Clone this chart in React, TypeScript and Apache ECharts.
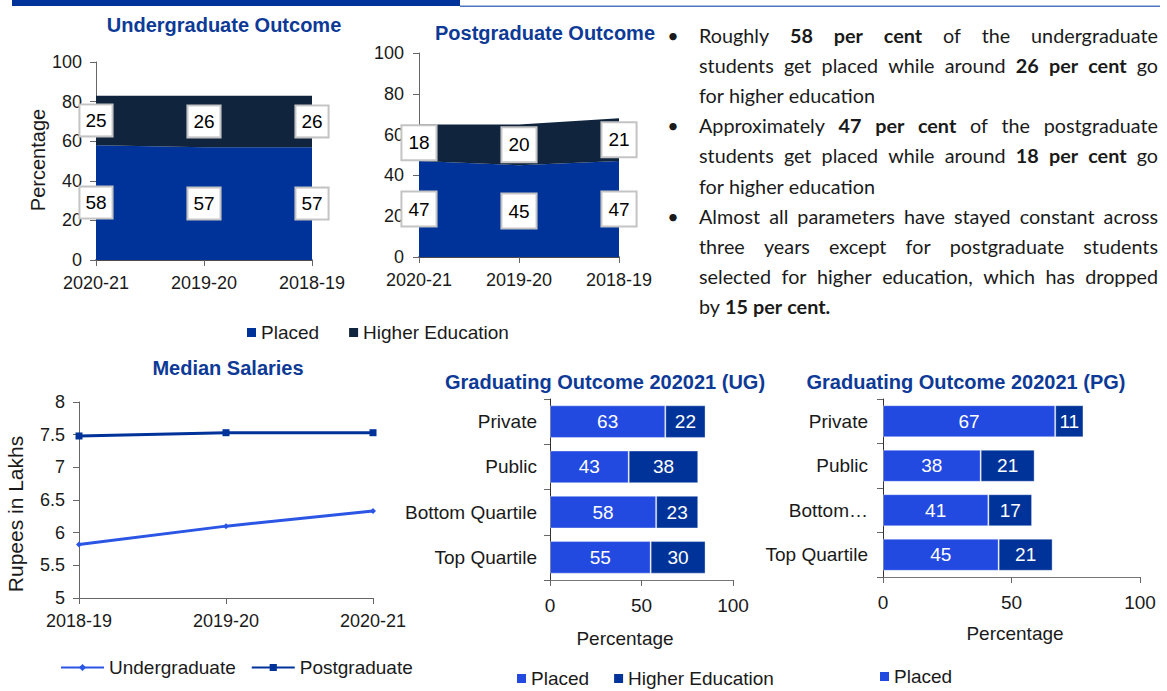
import React, { useEffect, useRef } from 'react';
import * as echarts from 'echarts';

// ---------- data ----------
const ugYears = ['2020-21', '2019-20', '2018-19'];
const ugPlaced = [58, 57, 57];
const ugHigher = [25, 26, 26];

const pgYears = ['2020-21', '2019-20', '2018-19'];
const pgPlaced = [47, 45, 47];
const pgHigher = [18, 20, 21];

const salaryYears = ['2018-19', '2019-20', '2020-21'];
const salaryUG = [5.82, 6.1, 6.33];
const salaryPG = [7.48, 7.53, 7.53];

const segments = ['Private', 'Public', 'Bottom Quartile', 'Top Quartile'];
const ugSegPlaced = [63, 43, 58, 55];
const ugSegHigher = [22, 38, 23, 30];
const pgSegPlaced = [67, 38, 41, 45];
const pgSegHigher = [11, 21, 17, 21];

const bulletParagraphs = [
  ['Roughly **58 per cent** of the undergraduate', 'students get placed while around **26 per cent** go', 'for higher education'],
  ['Approximately **47 per cent** of the postgraduate', 'students get placed while around **18 per cent** go', 'for higher education'],
  [
    'Almost all parameters have stayed constant across',
    'three years except for postgraduate students',
    'selected for higher education, which has dropped',
    'by **15 per cent**.',
  ],
];

// ---------- styling ----------
const FONT = '"Liberation Sans", Arial, sans-serif';
const TEXT_FONT = 'Lato';
const NAVY = '#003399';
const DARK = '#10243e';
const BRIGHT = '#2249e0';
const TITLE = '#0d3a96';
const INK = '#1a1a1a';

function parseLine(line: string) {
  const out: { t: string; b: boolean }[] = [];
  let bold = false;
  for (let tok of line.split(' ')) {
    if (!tok) continue;
    let b = bold;
    if (tok.startsWith('**')) {
      tok = tok.slice(2);
      b = true;
      bold = true;
    }
    let end = false;
    if (tok.includes('**')) {
      tok = tok.replace('**', '');
      end = true;
    }
    out.push({ t: tok, b });
    if (end) bold = false;
  }
  return out;
}

function buildTextBlock(): any[] {
  const ctx = document.createElement('canvas').getContext('2d')!;
  const measure = (t: string, b: boolean, s: number) => {
    ctx.font = `${b ? 'bold ' : ''}${s}px ${TEXT_FONT}`;
    return ctx.measureText(t).width;
  };
  let size = (176 / measure('for higher education', false, 100)) * 100;
  if (!isFinite(size) || size < 14 || size > 24) size = 19;
  const left = 699;
  const right = 1158;
  const startY = 35;
  const lineH = 30.1;
  const els: any[] = [];
  let li = 0;
  bulletParagraphs.forEach((para) => {
    els.push({
      type: 'text',
      x: 673,
      y: startY + li * lineH,
      style: { text: '•', fontSize: size, fontFamily: TEXT_FONT, fill: INK, align: 'center', verticalAlign: 'middle' },
    });
    para.forEach((line, k) => {
      const words = parseLine(line);
      const widths = words.map((w) => measure(w.t, w.b, size));
      const total = widths.reduce((a, c) => a + c, 0);
      const last = k === para.length - 1;
      const gap = last || words.length < 2 ? measure(' ', false, size) : (right - left - total) / (words.length - 1);
      let x = left;
      const y = startY + li * lineH;
      words.forEach((w, i) => {
        els.push({
          type: 'text',
          x,
          y,
          style: {
            text: w.t,
            fontSize: size,
            fontFamily: TEXT_FONT,
            fontWeight: w.b ? 'bold' : 'normal',
            fill: INK,
            align: 'left',
            verticalAlign: 'middle',
          },
        });
        x += widths[i] + gap;
      });
      li++;
    });
  });
  return els;
}

const lab = (size = 18, margin = 14) => ({ color: INK, fontSize: size, fontFamily: FONT, margin });

function titleText(text: string, x: number, y: number) {
  return {
    type: 'text',
    x,
    y,
    style: { text, fontSize: 20, fontWeight: 'bold', fontFamily: FONT, fill: TITLE, align: 'center', verticalAlign: 'middle' },
  };
}
function nameText(text: string, x: number, y: number, size: number, rotate = false) {
  return {
    type: 'text',
    x,
    y,
    rotation: rotate ? Math.PI / 2 : 0,
    style: { text, fontSize: size, fontFamily: FONT, fill: INK, align: 'center', verticalAlign: 'middle' },
  };
}

const boxLabel = (padding: number[]) => ({
  show: true,
  position: 'inside',
  formatter: (p: any) => String(p.value[2]),
  backgroundColor: '#fff',
  borderColor: '#c4c4c4',
  borderWidth: 2,
  padding,
  fontSize: 19,
  fontFamily: FONT,
  color: '#000',
  opacity: 1,
});

function labelSeries(xi: number, placed: number[], higher: number[], padding: number[]) {
  const data = [
    ...placed.map((v, i) => [i, v / 2, v]),
    ...higher.map((v, i) => [i, placed[i] + v / 2, v]),
  ];
  return {
    type: 'scatter',
    name: 'labels' + xi,
    xAxisIndex: xi,
    yAxisIndex: xi,
    data,
    symbolSize: 1,
    itemStyle: { color: 'rgba(0,0,0,0)' },
    label: boxLabel(padding),
    silent: true,
    z: 5,
  };
}

function areaSeries(name: string, xi: number, stack: string, data: number[], color: string) {
  return {
    type: 'line',
    name,
    xAxisIndex: xi,
    yAxisIndex: xi,
    stack,
    data,
    symbol: 'none',
    lineStyle: { width: 0, color },
    itemStyle: { color },
    areaStyle: { color, opacity: 1 },
  };
}

function barSeries(name: string, xi: number, stack: string, data: number[], color: string) {
  return {
    type: 'bar',
    name,
    xAxisIndex: xi,
    yAxisIndex: xi,
    stack,
    data,
    barWidth: '72%',
    itemStyle: { color, borderColor: 'rgba(255,255,255,0.35)', borderWidth: 1 },
    label: { show: true, position: 'inside', color: '#fff', fontSize: 19, fontFamily: FONT },
  };
}

function buildOption() {
  const catAxisX = (gi: number, data: string[]) => ({
    gridIndex: gi,
    type: 'category',
    data,
    boundaryGap: false,
    axisLine: { show: true, lineStyle: { color: '#111', width: 1.5 } },
    axisTick: { show: true, length: 6, lineStyle: { color: '#666' } },
    axisLabel: { ...lab(18, 14), interval: 0 },
    splitLine: { show: false },
  });
  const valAxis = (gi: number, min: number, max: number, interval: number, size = 18, margin = 14) => ({
    gridIndex: gi,
    type: 'value',
    min,
    max,
    interval,
    axisLine: { show: true, lineStyle: { color: '#666' } },
    axisTick: { show: true, length: 6, lineStyle: { color: '#666' } },
    axisLabel: lab(size, margin),
    splitLine: { show: false },
  });
  const segAxis = (gi: number, margin: number, formatter?: (v: string) => string) => ({
    gridIndex: gi,
    type: 'category',
    data: segments,
    inverse: true,
    axisLine: { show: true, lineStyle: { color: '#333' } },
    axisTick: { show: true, length: 6, lineStyle: { color: '#666' } },
    axisLabel: { ...lab(19, margin), interval: 0, ...(formatter ? { formatter } : {}) },
    splitLine: { show: false },
  });

  const legendBase = {
    selectedMode: false,
    orient: 'horizontal',
    textStyle: { fontSize: 19, fontFamily: FONT, color: INK },
    padding: 0,
  };

  return {
    animation: false,
    backgroundColor: '#fff',
    grid: [
      { left: 96, top: 62, width: 216, height: 198, outerBoundsMode: 'none' },
      { left: 419, top: 53, width: 200, height: 204, outerBoundsMode: 'none' },
      { left: 79, top: 402, width: 294, height: 196, outerBoundsMode: 'none' },
      { left: 550, top: 399, width: 183, height: 181, outerBoundsMode: 'none' },
      { left: 883, top: 399, width: 257, height: 178, outerBoundsMode: 'none' },
    ],
    xAxis: [
      catAxisX(0, ugYears),
      catAxisX(1, pgYears),
      { ...catAxisX(2, salaryYears), axisLine: { show: true, lineStyle: { color: '#666', width: 1 } } },
      { ...valAxis(3, 0, 100, 50, 19, 16), axisLine: { show: true, lineStyle: { color: '#777' } } },
      { ...valAxis(4, 0, 100, 50, 19, 16), axisLine: { show: true, lineStyle: { color: '#777' } } },
    ],
    yAxis: [
      valAxis(0, 0, 100, 20, 18, 14),
      valAxis(1, 0, 100, 20, 18, 15),
      valAxis(2, 5, 8, 0.5, 18, 14),
      segAxis(3, 13),
      segAxis(4, 15, (v: string) => (v.length > 12 ? v.split(' ')[0] + '…' : v)),
    ],
    legend: [
      {
        ...legendBase,
        left: 247,
        top: 323,
        icon: 'rect',
        itemWidth: 9,
        itemHeight: 9,
        itemGap: 30,
        data: [
          { name: 'Placed', itemStyle: { color: NAVY } },
          { name: 'Higher Education', itemStyle: { color: DARK } },
        ],
      },
      {
        ...legendBase,
        left: 60,
        top: 658,
        itemWidth: 43,
        itemHeight: 9,
        itemGap: 15,
        data: ['Undergraduate', 'Postgraduate'],
      },
      {
        ...legendBase,
        left: 517,
        top: 669,
        icon: 'rect',
        itemWidth: 9,
        itemHeight: 9,
        itemGap: 25,
        data: [
          { name: 'Placed', itemStyle: { color: BRIGHT } },
          { name: 'Higher Education', itemStyle: { color: NAVY } },
        ],
      },
      {
        ...legendBase,
        left: 880,
        top: 667,
        icon: 'rect',
        itemWidth: 9,
        itemHeight: 9,
        data: [{ name: 'Placed', itemStyle: { color: BRIGHT } }],
      },
    ],
    series: [
      areaSeries('Placed', 0, 'ug', ugPlaced, NAVY),
      areaSeries('Higher Education', 0, 'ug', ugHigher, DARK),
      labelSeries(0, ugPlaced, ugHigher, [6, 5, 5, 5]),
      areaSeries('Placed', 1, 'pg', pgPlaced, NAVY),
      areaSeries('Higher Education', 1, 'pg', pgHigher, DARK),
      labelSeries(1, pgPlaced, pgHigher, [8, 6, 6, 6]),
      {
        type: 'line',
        name: 'Undergraduate',
        xAxisIndex: 2,
        yAxisIndex: 2,
        data: salaryUG,
        symbol: 'diamond',
        symbolSize: 6,
        lineStyle: { width: 3, color: '#2a55e5' },
        itemStyle: { color: '#2a55e5' },
      },
      {
        type: 'line',
        name: 'Postgraduate',
        xAxisIndex: 2,
        yAxisIndex: 2,
        data: salaryPG,
        symbol: 'rect',
        symbolSize: 7,
        lineStyle: { width: 3, color: NAVY },
        itemStyle: { color: NAVY },
      },
      barSeries('Placed', 3, 'ugseg', ugSegPlaced, BRIGHT),
      barSeries('Higher Education', 3, 'ugseg', ugSegHigher, NAVY),
      barSeries('Placed', 4, 'pgseg', pgSegPlaced, BRIGHT),
      barSeries('Higher Education', 4, 'pgseg', pgSegHigher, NAVY),
    ],
    graphic: [
      { type: 'rect', shape: { x: 12, y: 0, width: 448, height: 6 }, style: { fill: NAVY } },
      { type: 'rect', shape: { x: 460, y: 5.5, width: 700, height: 1.5 }, style: { fill: '#4f74c0' } },
      titleText('Undergraduate Outcome', 224, 25),
      titleText('Postgraduate Outcome', 545, 33),
      titleText('Median Salaries', 228, 368),
      titleText('Graduating Outcome 202021 (UG)', 605, 382),
      titleText('Graduating Outcome 202021 (PG)', 966, 382),
      nameText('Percentage', 38, 160, 20, true),
      nameText('Rupees in Lakhs', 15, 514, 21, true),
      nameText('Percentage', 625, 638, 19),
      nameText('Percentage', 1015, 633, 19),
      ...buildTextBlock(),
    ],
  };
}

export default function App() {
  const ref = useRef<HTMLDivElement>(null);
  useEffect(() => {
    const chart = echarts.init(ref.current!, null, { renderer: 'svg' });
    chart.setOption(buildOption() as any);
    return () => chart.dispose();
  }, []);
  return (
    <div
      ref={ref}
      style={{ position: 'absolute', left: 0, top: 0, width: 1167, height: 691, background: '#fff' }}
    />
  );
}
